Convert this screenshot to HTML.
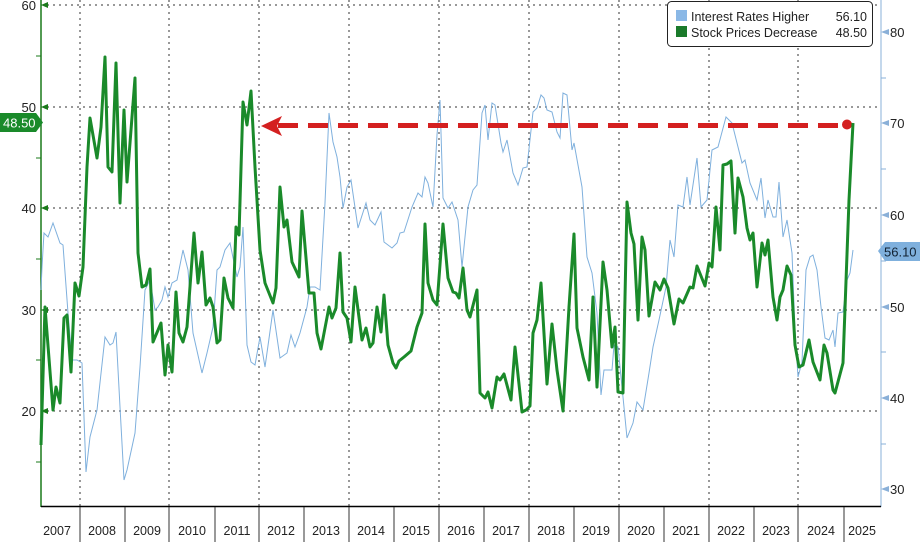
<!DOCTYPE html>
<html><head><meta charset="utf-8"><style>
html,body{margin:0;padding:0;background:#fff;}
svg{display:block;font-family:"Liberation Sans",sans-serif;}
</style></head><body>
<svg width="920" height="542" viewBox="0 0 920 542" xmlns="http://www.w3.org/2000/svg">
<rect width="920" height="542" fill="#fff"/>
<!-- grid -->
<g stroke="#333" stroke-width="1" stroke-dasharray="2,4">
<line x1="41" y1="5" x2="881" y2="5"/>
<line x1="41" y1="107" x2="881" y2="107"/>
<line x1="41" y1="208" x2="881" y2="208"/>
<line x1="41" y1="310" x2="881" y2="310"/>
<line x1="41" y1="411" x2="881" y2="411"/>
<line x1="80" y1="0" x2="80" y2="506"/>
<line x1="169" y1="0" x2="169" y2="506"/>
<line x1="259" y1="0" x2="259" y2="506"/>
<line x1="349" y1="0" x2="349" y2="506"/>
<line x1="439" y1="0" x2="439" y2="506"/>
<line x1="529" y1="0" x2="529" y2="506"/>
<line x1="619" y1="0" x2="619" y2="506"/>
<line x1="709" y1="0" x2="709" y2="506"/>
<line x1="798" y1="0" x2="798" y2="506"/>
</g>
<!-- axes -->
<line x1="41" y1="0" x2="41" y2="507" stroke="#1a7a1a" stroke-width="1.5"/>
<line x1="881" y1="0" x2="881" y2="507" stroke="#8ab0d8" stroke-width="1"/>
<line x1="41" y1="506.5" x2="881" y2="506.5" stroke="#000" stroke-width="1.5"/>
<g stroke="#333" stroke-width="1">
<line x1="80" y1="507" x2="80" y2="542"/><line x1="125" y1="507" x2="125" y2="542"/><line x1="169" y1="507" x2="169" y2="542"/><line x1="215" y1="507" x2="215" y2="542"/><line x1="259" y1="507" x2="259" y2="542"/><line x1="304" y1="507" x2="304" y2="542"/><line x1="349" y1="507" x2="349" y2="542"/><line x1="394" y1="507" x2="394" y2="542"/><line x1="439" y1="507" x2="439" y2="542"/><line x1="484" y1="507" x2="484" y2="542"/><line x1="529" y1="507" x2="529" y2="542"/><line x1="574" y1="507" x2="574" y2="542"/><line x1="619" y1="507" x2="619" y2="542"/><line x1="664" y1="507" x2="664" y2="542"/><line x1="709" y1="507" x2="709" y2="542"/><line x1="754" y1="507" x2="754" y2="542"/><line x1="798" y1="507" x2="798" y2="542"/><line x1="844" y1="507" x2="844" y2="542"/>
</g>
<g font-size="12.5" fill="#222" text-anchor="middle">
<text x="57" y="535">2007</text><text x="102" y="535">2008</text><text x="147" y="535">2009</text><text x="192" y="535">2010</text><text x="237" y="535">2011</text><text x="281" y="535">2012</text><text x="326" y="535">2013</text><text x="371" y="535">2014</text><text x="416" y="535">2015</text><text x="461" y="535">2016</text><text x="506" y="535">2017</text><text x="551" y="535">2018</text><text x="596" y="535">2019</text><text x="641" y="535">2020</text><text x="686" y="535">2021</text><text x="731" y="535">2022</text><text x="776" y="535">2023</text><text x="821" y="535">2024</text><text x="862" y="535">2025</text>
</g>
<!-- left axis ticks -->
<g fill="#1a7a1a">
<polygon points="41,5 48,2 48,8"/><polygon points="41,107 48,104 48,110"/><polygon points="41,208 48,205 48,211"/><polygon points="41,310 48,307 48,313"/><polygon points="41,411 48,408 48,414"/>
</g>
<g stroke="#1a7a1a"><line x1="36" y1="56" x2="41" y2="56"/><line x1="36" y1="158" x2="41" y2="158"/><line x1="36" y1="259" x2="41" y2="259"/><line x1="36" y1="360" x2="41" y2="360"/><line x1="36" y1="462" x2="41" y2="462"/></g>
<g font-size="13" fill="#222" text-anchor="end">
<text x="36" y="10">60</text><text x="36" y="112">50</text><text x="36" y="213">40</text><text x="36" y="315">30</text><text x="36" y="416">20</text>
</g>
<!-- right axis -->
<g fill="#8ab0d8">
<polygon points="881,32 889,29 889,35"/><polygon points="881,123 889,120 889,126"/><polygon points="881,215 889,212 889,218"/><polygon points="881,307 889,304 889,310"/><polygon points="881,398 889,395 889,401"/><polygon points="881,489 889,486 889,492"/>
</g>
<g stroke="#8ab0d8"><line x1="881" y1="78" x2="886" y2="78"/><line x1="881" y1="169" x2="886" y2="169"/><line x1="881" y1="261" x2="886" y2="261"/><line x1="881" y1="352" x2="886" y2="352"/><line x1="881" y1="444" x2="886" y2="444"/></g>
<g font-size="13" fill="#222">
<text x="890" y="37">80</text><text x="890" y="128">70</text><text x="890" y="220">60</text><text x="890" y="312">50</text><text x="890" y="403">40</text><text x="890" y="494">30</text>
</g>
<!-- blue series -->
<polyline fill="none" stroke="#7fb0dd" stroke-width="1" points="41,290 42,267 44,233 48,237 53,223 60,243 63,245 68,313 72,360 77,360 82,363 86,472 90,437 97,410 105,337 110,345 113,343 116,332 120,407 124,480 127,470 132,447 135,433 140,367 145,290 150,280 155,310 158,307 162,300 165,287 168,297 172,283 177,280 183,250 188,270 193,333 202,373 207,353 213,327 217,270 220,267 225,250 230,243 237,277 240,267 243,227 247,345 251,362 255,365 260,337 265,367 273,310 280,358 287,353 291,335 295,347 300,333 307,307 310,287 315,287 320,290 325,203 329,113 333,142 337,157 340,177 343,208 347,187 351,180 358,228 366,203 370,220 375,225 381,212 384,242 392,248 397,243 400,233 404,232 412,207 418,193 422,197 425,177 428,183 433,207 437,135 440,100 443,198 448,208 452,202 458,220 462,267 468,207 473,190 477,185 482,113 485,105 488,140 492,103 495,105 501,143 503,152 507,140 513,173 518,185 523,168 527,167 533,112 537,108 541,95 544,98 547,110 552,112 557,132 560,138 563,93 567,95 572,150 574,143 582,187 587,257 592,273 597,313 601,395 604,370 612,370 614,345 618,347 623,397 627,438 633,423 637,402 643,410 649,373 653,347 659,320 666,287 670,240 674,257 678,205 683,207 687,177 690,205 697,158 701,207 707,200 712,150 718,147 726,117 732,123 737,143 742,163 745,160 750,183 757,200 761,178 765,218 768,200 773,217 776,217 779,182 783,237 787,220 792,253 795,330 798,377 802,362 806,270 810,257 813,255 817,270 821,307 825,338 829,340 833,330 835,347 838,313 843,312 847,280 850,273 853,250"/>
<!-- red dashed -->
<line x1="278" y1="125.5" x2="846" y2="125.5" stroke="#d42020" stroke-width="5" stroke-dasharray="20,10"/>
<polygon points="261,126 282,116 277,126 282,136" fill="#d42020"/>
<circle cx="847" cy="124.5" r="5" fill="#d42020"/>
<!-- green series -->
<polyline fill="none" stroke="#1a8a2a" stroke-width="3" stroke-linejoin="round" points="41,445 45,307 53,410 56,387 60,403 64,318 67,315 71,372 75,283 79,296 83,267 87,167 90,118 97,158 101,127 105,57 108,167 112,172 116,63 120,203 124,110 127,182 135,78 138,253 142,287 146,285 150,269 153,342 161,323 165,375 168,345 172,372 176,292 179,333 183,342 187,327 194,233 198,283 202,252 206,305 210,298 213,307 217,343 220,340 224,278 228,298 233,308 236,227 239,235 243,102 247,125 251,91 255,167 260,250 265,283 273,303 276,288 280,187 284,227 287,220 292,262 299,277 302,211 309,293 314,293 317,333 321,349 329,307 332,318 336,308 340,253 343,312 347,318 351,342 355,287 362,340 366,328 370,347 373,343 377,307 381,332 384,295 388,345 393,363 396,368 399,361 404,357 411,351 417,327 422,313 425,224 428,283 433,300 437,305 443,224 448,278 453,292 456,293 459,298 463,268 467,310 470,317 477,290 480,393 485,398 488,392 492,408 497,377 500,380 504,374 511,400 515,347 522,412 526,410 530,406 533,333 537,320 541,283 547,384 552,324 557,370 563,411 569,307 574,234 577,328 583,357 589,380 593,297 597,387 603,262 607,290 612,347 615,327 618,392 623,393 627,202 631,233 634,244 638,320 642,237 645,250 649,316 655,282 660,290 664,279 668,288 674,324 679,299 683,303 690,287 693,288 697,266 705,286 709,263 712,267 716,207 720,250 723,165 727,164 731,161 735,233 738,178 743,197 747,228 750,240 753,233 757,287 762,243 765,255 768,240 773,297 777,320 780,297 783,290 787,266 791,275 795,345 799,367 803,365 809,340 813,362 820,380 824,345 827,353 833,390 835,393 843,363 849,200 853,123"/>
<!-- tags -->
<polygon points="0,113 36,113 43,122.5 36,132 0,132" fill="#1a8a2a"/>
<text x="3" y="127.5" font-size="13" fill="#fff">48.50</text>
<polygon points="878,251 885,242 920,242 920,261 885,261" fill="#7fb0dd"/>
<text x="884" y="256.5" font-size="13" fill="#123">56.10</text>
<!-- legend -->
<rect x="667.5" y="1.5" width="205" height="45" rx="4" fill="#fff" stroke="#222" stroke-width="1"/>
<rect x="676" y="10" width="11" height="11" fill="#8ab8e6"/>
<rect x="676" y="26" width="11" height="11" fill="#1a7a2a"/>
<g font-size="12.5" fill="#222">
<text x="691" y="21">Interest Rates Higher</text><text x="867" y="21" text-anchor="end">56.10</text>
<text x="691" y="37">Stock Prices Decrease</text><text x="867" y="37" text-anchor="end">48.50</text>
</g>
</svg>
</body></html>
